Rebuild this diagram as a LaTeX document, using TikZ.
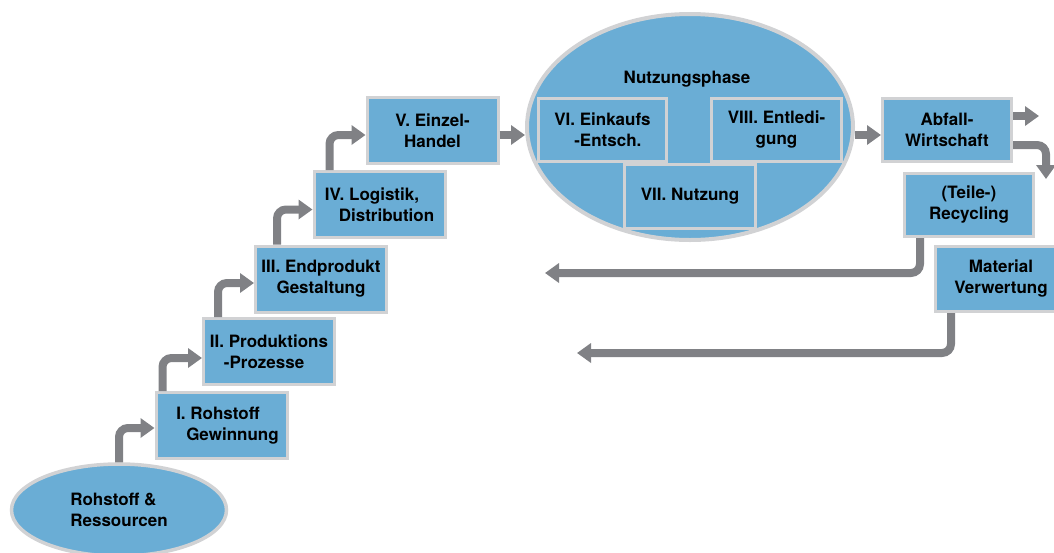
\documentclass[tikz,border=0pt]{standalone}
\usepackage{fontspec}
\setmainfont{TeX Gyre Heros}
\usetikzlibrary{shapes.geometric,arrows.meta,calc}
\definecolor{boxblue}{HTML}{6AADD5}
\definecolor{boxborder}{HTML}{D1D2D4}
\definecolor{arrgray}{HTML}{808185}
\tikzset{
  stepbox/.style={draw=boxborder,line width=3pt,fill=boxblue,minimum width=131pt,minimum height=66pt,inner sep=0pt,font=\fontsize{17}{21}\selectfont\bfseries,align=center},
  innerbox/.style={stepbox,minimum width=130pt,minimum height=63pt},
  blob/.style={ellipse,draw=boxborder,line width=3.5pt,fill=boxblue,inner sep=0pt,font=\fontsize{17}{21}\selectfont\bfseries},
  arr/.style={draw=arrgray,line width=8pt,rounded corners=9pt,-{Triangle[length=14pt,width=19pt]}},
  lbl/.style={font=\fontsize{17}{21}\selectfont\bfseries,inner sep=0pt}
}
\begin{document}
\begin{tikzpicture}[x=1pt,y=-1pt]
\useasboundingbox (0,0) rectangle (1054,552);
% nodes
\node[blob,minimum width=215pt,minimum height=92pt,align=left] (roh) at (119,510) {Rohstoff \&\\Ressourcen};
\node[stepbox,align=left] (I) at (221.5,425.5) {\hspace*{12pt}I. Rohstoff\\\hspace*{22pt}Gewinnung};
\node[stepbox,align=left] (II) at (269,351.5) {II. Produktions\\\hspace*{14pt}-Prozesse};
\node[stepbox] (III) at (321,279) {III. Endprodukt\\Gestaltung};
\node[stepbox,align=left] (IV) at (379.5,204.5) {IV. Logistik,\\\hspace*{14pt}Distribution};
\node[stepbox] (V) at (432.5,130.5) {V. Einzel-\\Handel};
\node[blob,line width=4pt,minimum width=326pt,minimum height=226pt] (ell) at (690,127) {};
\node[lbl] (nutz) at (687,79) {Nutzungsphase};
\node[innerbox,minimum width=128pt,align=left] (VI) at (602.5,130) {VI. Einkaufs\\\hspace*{20pt}-Entsch.};
\node[innerbox] (VIII) at (776.5,130) {VIII. Entledi-\\gung};
\node[innerbox,minimum width=131pt,minimum height=64pt] (VII) at (690,196.5) {VII. Nutzung};
\node[innerbox,minimum width=129pt] (abf) at (947,130) {Abfall-\\Wirtschaft};
\node[innerbox,minimum width=129pt] (rec) at (969,205) {(Teile-)\\Recycling};
\node[stepbox,minimum height=65pt] (mat) at (1001,279) {Material\\Verwertung};
% free ends
\coordinate (out1) at (1039,116);
\coordinate (out2) at (1046,179);
\coordinate (ret1) at (545,273);
\coordinate (ret2) at (577,353);
% connectors
\draw[arr] (roh.north) |- ($(I.west)+(0,2.5)$);
\draw[arr] ($(I.north west)+(8,0)$) |- ($(II.west)+(0,6.5)$);
\draw[arr] ($(II.north west)+(16,0)$) |- ($(III.west)+(0,4)$);
\draw[arr] ($(III.north west)+(23,0)$) |- ($(IV.west)+(0,5)$);
\draw[arr] ($(IV.north west)+(17,0)$) |- ($(V.west)+(0,4.5)$);
\draw[arr] ($(V.east)+(0,4.5)$) -- ($(ell.west)+(0,8)$);
\draw[arr] ($(ell.east)+(0,8)$) -- ($(abf.west)+(0,5)$);
\draw[arr] (abf.east |- out1) -- (out1);
\draw[arr] ($(abf.east)+(0,15)$) -| (out2);
\draw[arr] ($(rec.south west)+(17,0)$) |- (ret1);
\draw[arr] ($(mat.south west)+(17,0)$) |- (ret2);
\end{tikzpicture}
\end{document}
